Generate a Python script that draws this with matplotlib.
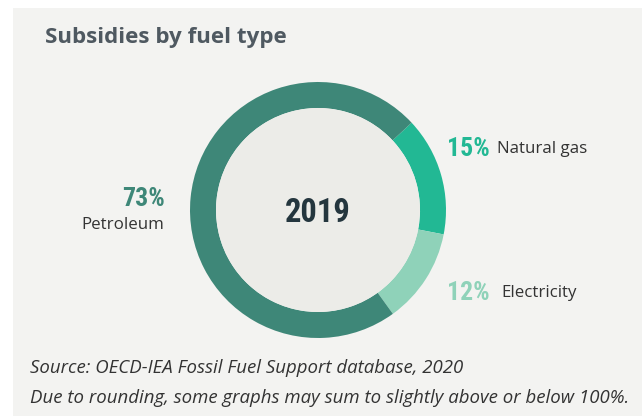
import matplotlib
matplotlib.use('Agg')
import matplotlib.pyplot as plt
from matplotlib.patches import Rectangle, Circle

# data
fuels = ['Natural gas', 'Electricity', 'Petroleum']
shares = [15, 12, 73]
colors = ['#22b894', '#8fd2b9', '#3e8778']
year = '2019'

bg = '#f3f3f1'
cond = ['Roboto Condensed', 'Liberation Sans Narrow', 'DejaVu Sans']
body = ['Open Sans', 'DejaVu Sans']

fig = plt.figure(figsize=(6.44, 4.16), dpi=100)
fig.patch.set_facecolor('white')
panel = Rectangle((13 / 644, 0), 629 / 644, 408 / 416, transform=fig.transFigure,
                  facecolor=bg, edgecolor='none', zorder=-10)
fig.add_artist(panel)

fig.text(45 / 644, 1 - 38 / 416, 'Subsidies by fuel type', fontsize=16.1, fontweight='bold',
         color='#4f5961', family=body, va='center', ha='left')

# donut: centre ~ (318, 210), outer radius ~128 px
r_px = 128
ax = fig.add_axes([(318 - r_px) / 644, 1 - (210 + r_px) / 416, 2 * r_px / 644, 2 * r_px / 416])
ax.set_zorder(5)
ax.set_facecolor('none')
wedges, _ = ax.pie(shares, colors=colors, startangle=43, counterclock=False,
                   wedgeprops=dict(width=26 / r_px, edgecolor='none'), radius=1)
ax.add_patch(Circle((0, 0), 1 - 26 / r_px, facecolor='#ecece8', edgecolor='none'))
ax.set_xlim(-1, 1)
ax.set_ylim(-1, 1)
ax.set_aspect('equal')
ax.axis('off')
ax.text(0, -0.02, year, fontsize=23.5, fontweight='bold', color='#24363e', family=cond,
        fontstretch='condensed', ha='center', va='center')

# labels
def pct(v):
    return f'{v}%'

lab = dict(fontsize=12.2, color='#333333', family=body, va='center')
num = dict(fontsize=18.5, fontweight='bold', family=cond, fontstretch='condensed', va='center')

fig.text(165 / 644, 1 - 199 / 416, pct(shares[2]), color=colors[2], ha='right', **num)
fig.text(164 / 644, 1 - 225 / 416, fuels[2], ha='right', **lab)

fig.text(447 / 644, 1 - 149 / 416, pct(shares[0]), color=colors[0], ha='left', **num)
fig.text(497 / 644, 1 - 149 / 416, fuels[0], ha='left', **lab)

fig.text(447 / 644, 1 - 293 / 416, pct(shares[1]), color=colors[1], ha='left', **num)
fig.text(501 / 644, 1 - 293 / 416, fuels[1], ha='left', **lab)

note = dict(fontsize=13.4, style='italic', color='#333333', family=body, va='center')
fig.text(30 / 644, 1 - 368 / 416, 'Source: OECD-IEA Fossil Fuel Support database, 2020', **note)
fig.text(30 / 644, 1 - 398 / 416,
         'Due to rounding, some graphs may sum to slightly above or below 100%.', **note)

fig.savefig('out.png', dpi=100)
